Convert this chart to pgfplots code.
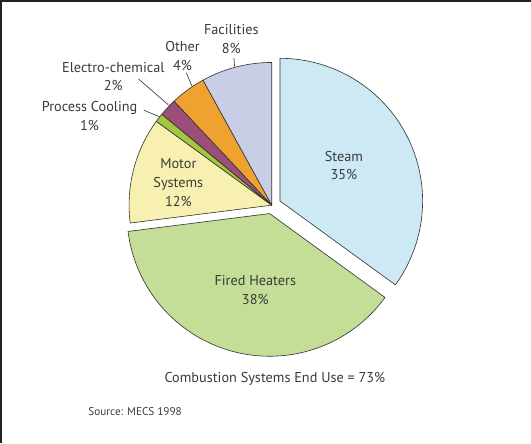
\documentclass[border=0pt]{standalone}
\usepackage{pgfplots}
\usepackage{pgfplotstable}
\usepackage{fontspec}
\setmainfont{PT Sans}
\pgfplotsset{compat=1.18}

% slice colours, in table order
\definecolor{c0}{HTML}{CDE9F3} % Steam
\definecolor{c1}{HTML}{C4DE98} % Fired Heaters
\definecolor{c2}{HTML}{F8F0B0} % Motor Systems
\definecolor{c3}{HTML}{A3C83E} % Process Cooling
\definecolor{c4}{HTML}{9B4E78} % Electro-chemical
\definecolor{c5}{HTML}{EFA230} % Other
\definecolor{c6}{HTML}{C9CDE6} % Facilities
\definecolor{edgec}{HTML}{333333}
\definecolor{txt}{HTML}{3A3A3A}
\definecolor{frame}{HTML}{222222}

% share of end use (percent) and how far each slice is pulled out
\pgfplotstableread{
name        pct  explode
Steam       35   9
Fired       38   8.5
Motor       12   0
Cooling     1    0
Electro     2    0
Other       4    0
Facilities  8    0
}\piedata

\def\cx{277.5}
\def\cy{233}
\def\R{139.5}

\begin{document}
\begin{tikzpicture}
\begin{axis}[
  width=531bp, height=441bp, scale only axis,
  xmin=0, xmax=531, ymin=0, ymax=441,
  axis lines=none, ticks=none, no markers,
  clip=true,
]
% frame
\addplot[frame, line width=2.2bp] coordinates {(12.9,0) (12.9,432.5) (531,432.5)};

% slices, clockwise from twelve o'clock
\pgfplotstablegetrowsof{\piedata}
\pgfmathtruncatemacro\N{\pgfplotsretval-1}
\def\cum{0}
\pgfplotsforeachungrouped \i in {0,...,\N}{%
  \pgfplotstablegetelem{\i}{pct}\of\piedata \let\p\pgfplotsretval
  \pgfplotstablegetelem{\i}{explode}\of\piedata \let\e\pgfplotsretval
  \pgfmathsetmacro\aS{90-3.6*\cum}%
  \pgfmathsetmacro\aE{90-3.6*(\cum+\p)}%
  \pgfmathsetmacro\aM{(\aS+\aE)/2}%
  \pgfmathsetmacro\ox{\cx+\e*cos(\aM)}%
  \pgfmathsetmacro\oy{\cy+\e*sin(\aM)}%
  \edef\temp{\noexpand\addplot[fill=c\i, draw=edgec, line width=0.6bp,
      line join=round, domain=\aE:\aS, samples=120, variable=\noexpand\t]
      ({\ox+\R*cos(\noexpand\t)},{\oy+\R*sin(\noexpand\t)})
      -- (axis cs:\ox,\oy) -- cycle;}%
  \temp
  \pgfmathsetmacro\cum{\cum+\p}%
}

% leader lines
\addplot[edgec, line width=0.6bp] coordinates {(240.5,377) (241.2,368.5)};
\addplot[edgec, line width=0.6bp] coordinates {(194,362.4) (199.5,349.5)};
\addplot[edgec, line width=0.6bp] coordinates {(147.3,356.3) (176.5,331)};
\addplot[edgec, line width=0.6bp] coordinates {(152.4,325.9) (167.5,319.5)};

% labels
\begin{scope}[every node/.style={text=txt, align=center, inner sep=0pt,
    font=\fontsize{14}{18.3}\selectfont}]
\node at (axis cs:238,395.3) {Facilities\\8\%};
\node at (axis cs:190.3,378.9) {Other\\4\%};
\node at (axis cs:122.6,358.9) {Electro-chemical\\2\%};
\node at (axis cs:99.4,320.3) {Process Cooling\\1\%};
\node at (axis cs:186.2,255) {Motor\\Systems\\12\%};
\node at (axis cs:348.1,271.7) {Steam\\35\%};
\node at (axis cs:261.4,149.8) {Fired Heaters\\38\%};
\node at (axis cs:280.6,63.4) {Combustion Systems End Use = 73\%};
\node[font=\fontsize{11}{13}\selectfont] at (axis cs:143.9,31.2) {Source: MECS 1998};
\end{scope}
\end{axis}
\end{tikzpicture}
\end{document}
